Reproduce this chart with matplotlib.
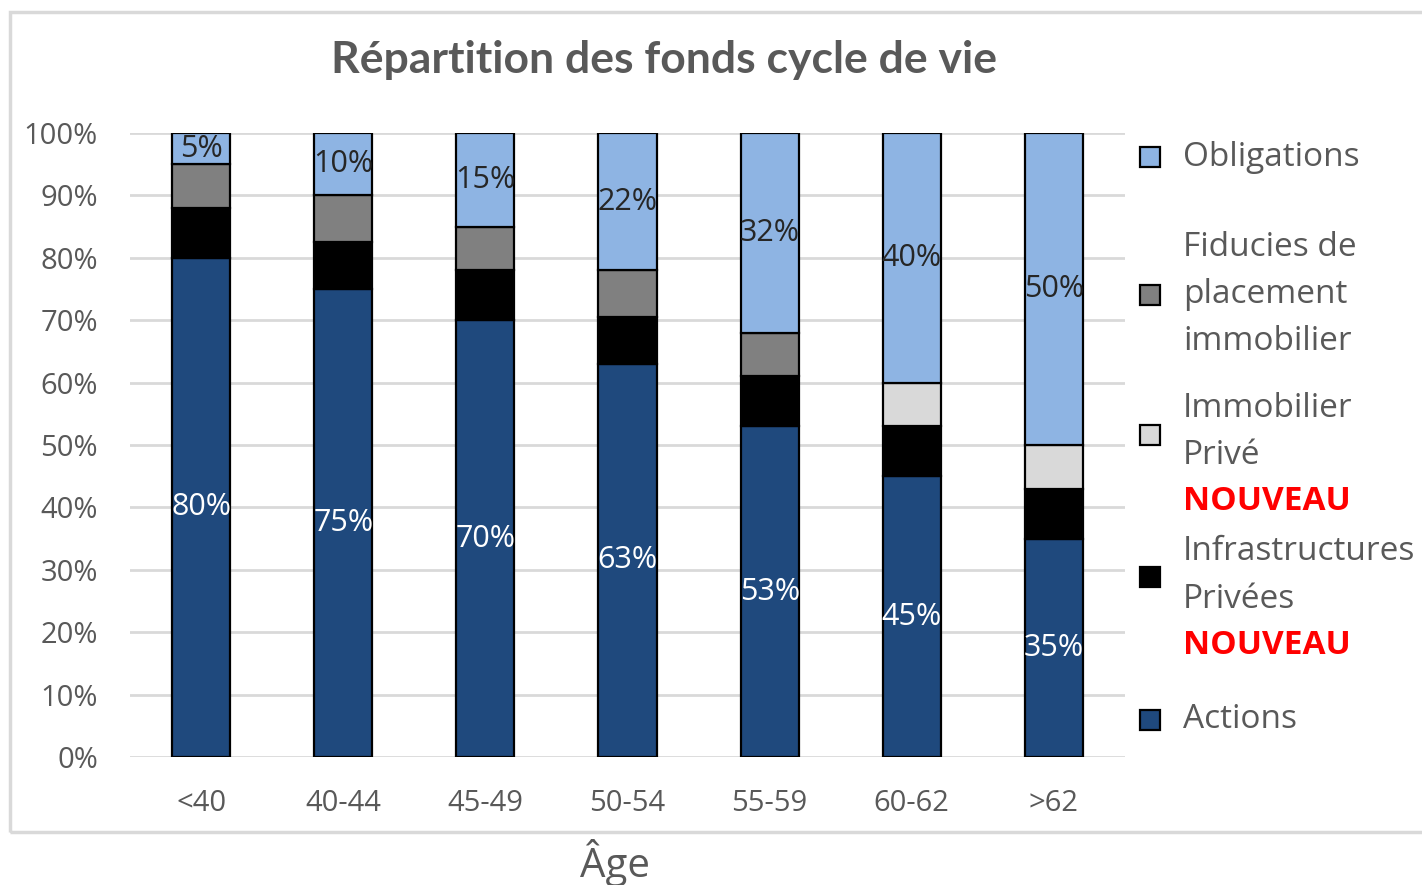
import numpy as np
import matplotlib
matplotlib.use("Agg")
import matplotlib.pyplot as plt
from matplotlib.patches import Rectangle

plt.rcParams['font.family'] = ['Open Sans', 'DejaVu Sans']

ages = ['<40', '40-44', '45-49', '50-54', '55-59', '60-62', '>62']
actions = [80, 75, 70, 63, 53, 45, 35]
infra = [8, 7.5, 8, 7.5, 8, 8, 8]
immo_prive = [0, 0, 0, 0, 0, 7, 7]
fiducies = [7, 7.5, 7, 7.5, 7, 0, 0]
obligations = [5, 10, 15, 22, 32, 40, 50]

yticks = [0, 10, 20, 30, 40, 50, 60, 70, 80, 90, 100]

series = [
    ('Actions', actions, '#1f497d'),
    ('Infrastructures Privées', infra, '#000000'),
    ('Immobilier Privé', immo_prive, '#d9d9d9'),
    ('Fiducies de placement immobilier', fiducies, '#808080'),
    ('Obligations', obligations, '#8eb4e3'),
]

grey = '#595959'

fig = plt.figure(figsize=(14.22, 8.85), dpi=100)
ax = fig.add_axes([130 / 1422, 1 - 757 / 885, 995 / 1422, 624 / 885])

x = np.arange(len(ages))
width = 0.41
bottom = np.zeros(len(ages))
for name, vals, color in series:
    vals = np.array(vals, dtype=float)
    lw = [1.6 if v > 0 else 0 for v in vals]
    ax.bar(x, vals, width, bottom=bottom, color=color, edgecolor='black',
           linewidth=lw, zorder=3)
    if name == 'Actions':
        for xi, b, v in zip(x, bottom, vals):
            ax.text(xi, b + v / 2, f'{v:.0f}%', ha='center', va='center',
                    color='white', fontsize=22, zorder=4)
    if name == 'Obligations':
        for xi, b, v in zip(x, bottom, vals):
            ax.text(xi, b + v / 2, f'{v:.0f}%', ha='center', va='center',
                    color='#262626', fontsize=22, zorder=4)
    bottom += vals

ax.set_xlim(-0.5, len(ages) - 0.5)
ax.set_ylim(0, 100)
ax.set_yticks(yticks)
ax.set_yticklabels([f'{t}%' for t in yticks], fontsize=21, color=grey)
ax.set_xticks(x)
ax.set_xticklabels(ages, fontsize=21, color=grey)
ax.tick_params(length=0)
ax.tick_params(axis='x', pad=23)
ax.tick_params(axis='y', pad=23)
ax.grid(axis='y', color='#d9d9d9', linewidth=2, zorder=0)
for s in ax.spines.values():
    s.set_visible(False)

# outer chart border
fig.add_artist(Rectangle((10 / 1422, 1 - 832 / 885), 1.2, 820 / 885,
                         transform=fig.transFigure, fill=False,
                         edgecolor='#d9d9d9', linewidth=2.5))

fig.text(664 / 1422, 1 - 60 / 885, 'Répartition des fonds cycle de vie',
         ha='center', va='center', fontsize=32, fontweight='bold', color=grey,
         family=['Lato', 'DejaVu Sans'])
fig.text(615 / 1422, 1 - 863 / 885, 'Âge', ha='center', va='center',
         fontsize=29, color=grey)

# legend drawn by hand (coloured "NOUVEAU" lines)
def fy(py):
    return 1 - py / 885

legend_rows = [
    (157, '#8eb4e3', [(157, 'Obligations', grey, 'normal')]),
    (295, '#808080', [(247, 'Fiducies de', grey, 'normal'),
                      (295, 'placement', grey, 'normal'),
                      (342, 'immobilier', grey, 'normal')]),
    (435, '#d9d9d9', [(408, 'Immobilier', grey, 'normal'),
                      (455, 'Privé', grey, 'normal'),
                      (502, 'NOUVEAU', 'red', 'bold')]),
    (577, '#000000', [(551, 'Infrastructures', grey, 'normal'),
                      (599, 'Privées', grey, 'normal'),
                      (646, 'NOUVEAU', 'red', 'bold')]),
    (720, '#1f497d', [(720, 'Actions', grey, 'normal')]),
]
sq = 20
for py, color, lines in legend_rows:
    fig.add_artist(Rectangle(((1150 - sq / 2) / 1422, fy(py + sq / 2)),
                             sq / 1422, sq / 885, transform=fig.transFigure,
                             facecolor=color, edgecolor='black', linewidth=1.6))
    for ty, txt, c, w in lines:
        fig.text(1183 / 1422, fy(ty), txt, ha='left', va='center',
                 fontsize=24, color=c, fontweight=w)

fig.savefig('out.png', dpi=100)
